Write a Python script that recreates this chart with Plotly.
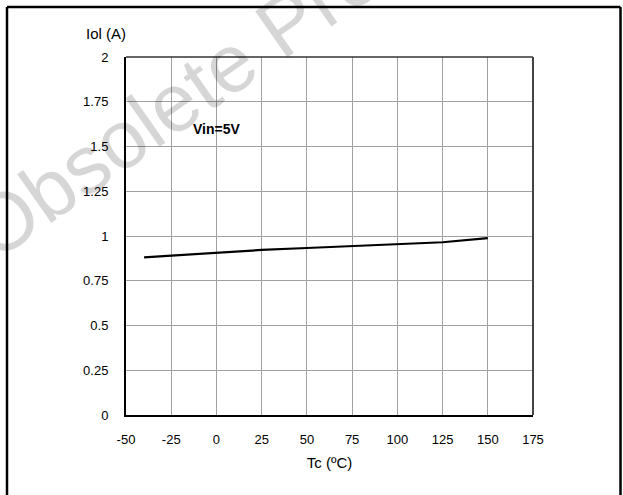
import plotly.graph_objects as go

# Data
tc = [-40, 0, 25, 50, 75, 100, 125, 150]
iol = [0.881, 0.907, 0.922, 0.933, 0.943, 0.953, 0.965, 0.988]

x_ticks = [-50, -25, 0, 25, 50, 75, 100, 125, 150, 175]
y_ticks = [0, 0.25, 0.5, 0.75, 1, 1.25, 1.5, 1.75, 2]
y_tick_text = ["0", "0.25", "0.5", "0.75", "1", "1.25", "1.5", "1.75", "2"]

W, H = 623, 495
L, R, T, B = 126, 533, 57, 415


def px(xp):
    return (xp - L) / (R - L)


def py(yp):
    return (B - yp) / (B - T)


FONT = "Liberation Sans, Arial, sans-serif"

fig = go.Figure()
fig.add_trace(go.Scatter(x=tc, y=iol, mode="lines",
                         line=dict(color="black", width=2.2),
                         showlegend=False, hoverinfo="skip"))

fig.update_layout(
    width=W, height=H,
    margin=dict(l=L, r=W - R, t=T, b=H - B, pad=0),
    paper_bgcolor="white", plot_bgcolor="rgba(0,0,0,0)",
    font=dict(family=FONT, size=13, color="black"),
    showlegend=False,
)
fig.update_xaxes(
    range=[-50, 175], tickvals=x_ticks, ticktext=[str(v) for v in x_ticks],
    showgrid=True, gridcolor="#a0a0a0", gridwidth=1,
    showline=True, linecolor="black", linewidth=2,
    ticks="", ticklabelstandoff=11, zeroline=False,
    tickfont=dict(size=13),
    title=dict(text="Tc (ºC)", font=dict(size=15), standoff=12),
    fixedrange=True,
)
fig.update_yaxes(
    range=[0, 2], tickvals=y_ticks, ticktext=y_tick_text,
    showgrid=True, gridcolor="#a0a0a0", gridwidth=1,
    showline=True, linecolor="black", linewidth=2,
    ticks="", ticklabelstandoff=13, zeroline=False,
    tickfont=dict(size=13),
    fixedrange=True,
)

# top and right frame of plot area
fig.add_shape(type="line", xref="paper", yref="paper", x0=0, x1=1, y0=1, y1=1,
              line=dict(color="#333333", width=1.5))
fig.add_shape(type="line", xref="paper", yref="paper", x0=1, x1=1, y0=0, y1=1,
              line=dict(color="#444444", width=2))

# outer frame of the image
fig.add_shape(type="line", xref="paper", yref="paper",
              x0=px(7), x1=px(7), y0=py(7), y1=py(520),
              line=dict(color="black", width=2.5))
fig.add_shape(type="line", xref="paper", yref="paper",
              x0=px(7), x1=px(620.5), y0=py(7), y1=py(7),
              line=dict(color="black", width=2.5))
fig.add_shape(type="line", xref="paper", yref="paper",
              x0=px(620.5), x1=px(620.5), y0=py(7), y1=py(520),
              line=dict(color="black", width=2.5))

# y-axis title
fig.add_annotation(text="Iol (A)", xref="paper", yref="paper",
                   x=px(106), y=py(33), showarrow=False,
                   xanchor="center", yanchor="middle",
                   font=dict(size=15, family=FONT, color="black"))

# condition label
fig.add_annotation(text="<b>Vin=5V</b>", x=0, y=1.6, xref="x", yref="y",
                   showarrow=False, xanchor="center", yanchor="middle",
                   font=dict(size=14, family=FONT, color="black"))

# watermark
fig.add_annotation(text="Obsolete Product(s)", xref="paper", yref="paper",
                   x=px(276), y=py(30), showarrow=False, textangle=-35,
                   xanchor="center", yanchor="middle",
                   font=dict(size=82, family=FONT, color="rgba(0,0,0,0.16)"))

fig.write_html("out.html",
               config={"displayModeBar": False},
               post_script="document.body.style.margin='0px';document.body.style.overflow='hidden';")
